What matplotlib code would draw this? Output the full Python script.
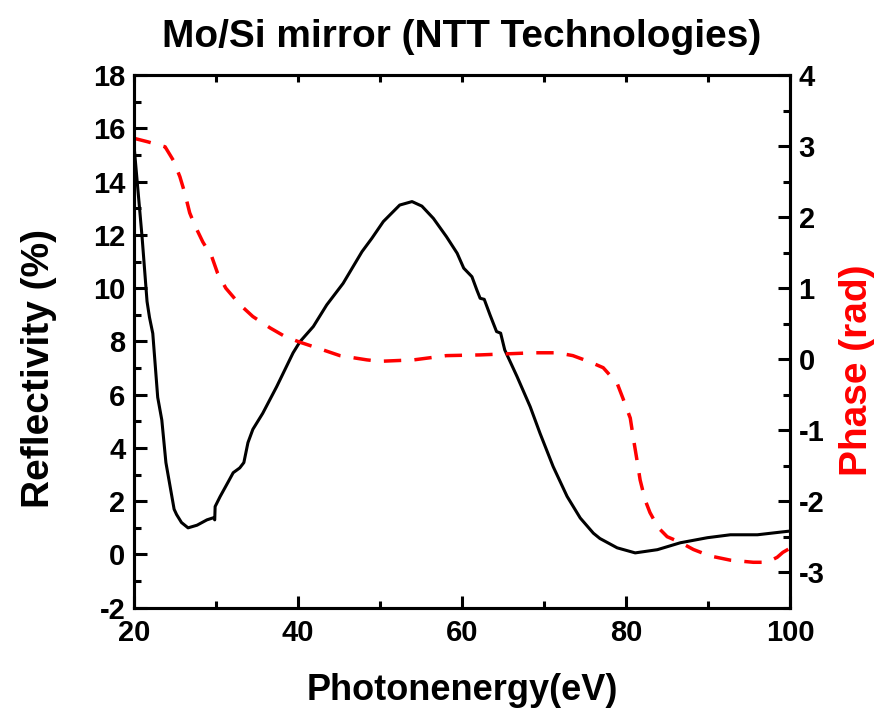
import numpy as np
import matplotlib.pyplot as plt
from matplotlib.ticker import MultipleLocator

plt.rcParams['font.family'] = ['Liberation Sans', 'DejaVu Sans']
plt.rcParams['font.weight'] = 'bold'
plt.rcParams['axes.unicode_minus'] = False

# reflectivity curve (%), photon energy in eV
energy_r = [20.0, 21.0, 21.6, 21.9, 22.3, 22.9, 23.4, 23.9, 24.5, 24.9, 25.2, 25.8,
            26.6, 27.7, 28.9, 29.7, 29.85, 29.9, 30.5, 31.5, 32.1, 32.9, 33.4, 33.9,
            34.5, 35.7, 37.4, 39.4, 40.24, 41.87, 43.5, 45.5, 47.8, 49.0, 50.4, 52.4,
            53.9, 55.1, 56.5, 58.1, 59.4, 60.2, 61.2, 61.8, 62.2, 62.7, 63.4, 64.2,
            64.7, 65.2, 66.7, 68.3, 69.5, 71.1, 72.8, 74.4, 76.0, 76.8, 78.9, 81.1,
            83.8, 86.6, 89.9, 92.7, 96.0, 99.1, 100.0]
reflectivity = [15.4, 11.9, 9.5, 8.9, 8.3, 5.9, 5.05, 3.45, 2.4, 1.7, 1.5, 1.2,
                1.0, 1.1, 1.3, 1.38, 1.3, 1.8, 2.17, 2.73, 3.07, 3.25, 3.45, 4.2,
                4.7, 5.3, 6.3, 7.57, 7.99, 8.56, 9.37, 10.18, 11.37, 11.87, 12.5, 13.12,
                13.25, 13.08, 12.62, 11.93, 11.31, 10.75, 10.43, 9.93, 9.62, 9.58, 9.0, 8.37,
                8.31, 7.68, 6.68, 5.55, 4.55, 3.30, 2.18, 1.37, 0.80, 0.60, 0.25, 0.06,
                0.18, 0.44, 0.63, 0.74, 0.74, 0.85, 0.88]

# phase curve (rad)
energy_p = [20.0, 21.7, 23.8, 24.8, 25.6, 26.2, 26.8, 27.4, 28.4, 29.5, 30.2, 31.2,
            32.9, 34.5, 36.6, 38.4, 40.2, 42.3, 45.1, 48.4, 50.0, 54.1, 58.1, 62.2,
            68.7, 71.6, 73.5, 75.6, 77.2, 78.9, 79.6, 80.5, 80.9, 81.3, 81.7, 82.3,
            82.9, 83.9, 85.0, 86.6, 88.2, 90.2, 92.7, 95.5, 97.2, 98.4, 99.1, 100.0]
phase = [3.11, 3.06, 2.99, 2.8, 2.57, 2.34, 2.06, 1.89, 1.65, 1.44, 1.21, 1.0,
         0.77, 0.6, 0.44, 0.32, 0.24, 0.16, 0.05, -0.01, -0.03, -0.01, 0.05, 0.06,
         0.09, 0.09, 0.05, -0.04, -0.12, -0.34, -0.55, -0.83, -1.13, -1.41, -1.7, -1.98,
         -2.16, -2.37, -2.5, -2.58, -2.68, -2.77, -2.83, -2.86, -2.86, -2.79, -2.72, -2.66]

fig = plt.figure(figsize=(8.81, 7.15), dpi=100)
ax = fig.add_axes([0.152, 0.150, 0.745, 0.745])
ax2 = ax.twinx()

ax.plot(energy_r, reflectivity, color='black', lw=2.2)
ax2.plot(energy_p, phase, color='red', lw=2.5, linestyle=(0, (5, 3.8)))

ax.set_xlim(20, 100)
ax.set_ylim(-2, 18)
ax2.set_ylim(-3.5, 4)

ax.xaxis.set_major_locator(MultipleLocator(20))
ax.xaxis.set_minor_locator(MultipleLocator(10))
ax.yaxis.set_major_locator(MultipleLocator(2))
ax.yaxis.set_minor_locator(MultipleLocator(1))
ax2.yaxis.set_major_locator(MultipleLocator(1))
ax2.yaxis.set_minor_locator(MultipleLocator(0.5))

for a in (ax, ax2):
    for s in a.spines.values():
        s.set_linewidth(2.2)

ax.tick_params(which='both', direction='in', width=2.2, labelsize=21, pad=6)
ax.tick_params(axis='x', which='both', pad=8)
ax.tick_params(which='major', length=9)
ax.tick_params(which='minor', length=5)
ax.tick_params(axis='y', right=False)
ax2.tick_params(which='both', direction='in', width=2.2, labelsize=21, pad=6)
ax2.tick_params(which='major', length=9)
ax2.tick_params(which='minor', length=5)

# short ticks along the top edge
top = ax.secondary_xaxis('top')
top.xaxis.set_major_locator(MultipleLocator(10))
top.tick_params(direction='in', width=2.2, length=5, labeltop=False)

ax.set_xlabel('Photonenergy(eV)', fontsize=26, fontweight='bold', labelpad=19)
ax.set_ylabel('Reflectivity (%)', fontsize=28, fontweight='bold')
ax.yaxis.set_label_coords(-0.117, 0.45)
ax2.set_ylabel('Phase (rad)', fontsize=28, fontweight='bold', color='red')
ax2.yaxis.set_label_coords(1.075, 0.445)
ax.set_title('Mo/Si mirror (NTT Technologies)', fontsize=28, fontweight='bold', pad=20)

fig.savefig('out.png', dpi=100)
